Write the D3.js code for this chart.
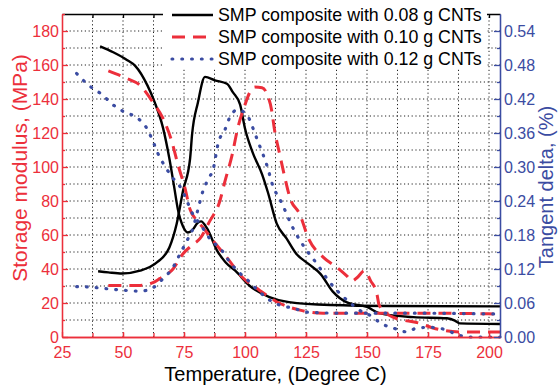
<!DOCTYPE html>
<html>
<head>
<meta charset="utf-8">
<script src="https://cdn.jsdelivr.net/npm/d3@7"></script>
<style>
  body { margin: 0; background: #fff; }
  svg { display: block; font-family: Arial, "Liberation Sans", sans-serif; }
</style>
</head>
<body>
<svg></svg>
<script>
const width = 560
const height = 385
const marginTop = 14
const marginRight = 60
const marginBottom = 48
const marginLeft = 62

const red = "#ec2f3b"
const blue = "#3b4ca2"

// tick labels
const xTicks = [25, 50, 75, 100, 125, 150, 175, 200]
const leftTicks = [0, 20, 40, 60, 80, 100, 120, 140, 160, 180]
const rightTicks = [0, 0.06, 0.12, 0.18, 0.24, 0.30, 0.36, 0.42, 0.48, 0.54]

const seriesNames = [
  "SMP composite with 0.08 g CNTs",
  "SMP composite with 0.10 g CNTs",
  "SMP composite with 0.12 g CNTs"
]

// 0.08 g CNTs - storage modulus (MPa)
const blackStorageT = [40.6, 46, 51.6, 55, 60, 63, 66.4, 69, 71, 72.5, 74.6, 76.6, 78.5, 80.5, 82, 84.4, 88.5, 92, 96, 102, 110, 118, 135, 160, 204.5]
const blackStorage = [171, 167.5, 163, 159.5, 148, 138, 123, 105, 88, 75, 65, 61.5, 63, 67, 68, 64, 51, 44, 39, 30, 23.5, 20.5, 18.8, 18.2, 18]
// 0.08 g CNTs - tangent delta
const blackTanT = [39.8, 44, 49.6, 57, 64, 69, 72, 74.6, 77.5, 78.3, 80.7, 83.6, 87.7, 92.6, 95, 98, 100, 103, 107, 109.4, 113, 117, 121, 126, 131, 136, 141.8, 150, 155, 169, 182.8, 186, 188, 204.5]
const blackTan = [0.116, 0.114, 0.112, 0.117, 0.132, 0.158, 0.200, 0.258, 0.315, 0.357, 0.414, 0.459, 0.453, 0.447, 0.432, 0.410, 0.368, 0.327, 0.287, 0.255, 0.200, 0.174, 0.147, 0.129, 0.111, 0.080, 0.061, 0.053, 0.042, 0.035, 0.033, 0.029, 0.024, 0.023]

// 0.10 g CNTs
const redStorageT = [44, 51.6, 57, 62.3, 66.4, 70, 72.5, 75.4, 77.5, 80, 83, 87, 92.6, 99, 106, 114, 122.5, 132, 150, 175, 204.5]
const redStorage = [156.5, 152, 148, 138, 128.6, 115, 101.5, 87.6, 75, 69, 64, 56.6, 46.7, 35, 27.4, 20, 15.8, 14, 14, 14, 13.5]
const redTanT = [44, 50, 57, 62.3, 65, 70.5, 74.6, 78, 81.6, 85.5, 89.7, 91.8, 94.7, 97, 100, 102, 104, 107, 109, 111, 112, 114.3, 116.4, 118.4, 122.5, 126, 132, 137.6, 141.7, 144, 146, 149, 151.5, 154, 155, 160.6, 171.7, 177, 188, 204.5]
const redTan = [0.091, 0.091, 0.091, 0.096, 0.103, 0.120, 0.147, 0.161, 0.174, 0.204, 0.240, 0.275, 0.321, 0.368, 0.410, 0.432, 0.441, 0.440, 0.429, 0.398, 0.368, 0.321, 0.280, 0.246, 0.216, 0.174, 0.141, 0.123, 0.108, 0.099, 0.105, 0.117, 0.099, 0.077, 0.056, 0.035, 0.024, 0.016, 0.009, 0.009]

// 0.12 g CNTs
const blueStorageT = [31, 36, 41.4, 45.9, 50.4, 55.7, 59.8, 62.3, 64.3, 67.2, 70.5, 74, 76.2, 78.7, 81.6, 85.6, 90.6, 93.9, 98, 101.2, 105.3, 110.2, 114.3, 119.7, 125.4, 140, 170, 204.5]
const blueStorage = [155, 148, 142.6, 136.6, 132.5, 129, 122.6, 115, 108, 100.4, 93.4, 87, 80, 72, 66.5, 57.8, 50.8, 43.8, 37.4, 33.3, 27.4, 21.6, 18.7, 17, 14.6, 14, 14, 13.5]
const blueTanT = [31, 36.5, 41.4, 46, 51.6, 57, 61.9, 66.4, 70.5, 73.4, 76.2, 78.7, 80.7, 82.8, 84.8, 87, 89, 91.8, 93.9, 97, 100.8, 103.3, 105.3, 107.4, 109.4, 111, 115, 119.7, 125.4, 129.5, 133.6, 137.7, 141.8, 147, 152.5, 155, 160.6, 166.4, 170.5, 175.8, 182.8, 187, 192, 204.5]
const blueTan = [0.089, 0.088, 0.086, 0.084, 0.082, 0.081, 0.086, 0.103, 0.123, 0.147, 0.170, 0.192, 0.225, 0.258, 0.278, 0.297, 0.342, 0.366, 0.389, 0.401, 0.392, 0.368, 0.345, 0.322, 0.297, 0.272, 0.237, 0.192, 0.152, 0.129, 0.103, 0.082, 0.065, 0.047, 0.035, 0.026, 0.016, 0.009, 0.016, 0.017, 0.012, 0.004, 0, 0]

const svg = d3.select("svg")
    .attr("width", width)
    .attr("height", height)

const x = d3.scaleLinear().domain([25, 204.5]).range([marginLeft, width - marginRight])
const yL = d3.scaleLinear().domain([0, 190]).range([height - marginBottom, marginTop])
const yR = d3.scaleLinear().domain([0, 0.57]).range([height - marginBottom, marginTop])

// grid
const xGrid = d3.range(37.5, 201, 12.5)
const yGrid = d3.range(10, 181, 10)
const grid = svg.append("g")
    .attr("stroke", "#222")
    .attr("stroke-width", 1)
    .attr("stroke-dasharray", "1.2,2.6")
grid.selectAll(".gx").data(xGrid).join("line")
    .attr("x1", d => x(d)).attr("x2", d => x(d))
    .attr("y1", yL(0)).attr("y2", yL(190))
grid.selectAll(".gy").data(yGrid).join("line")
    .attr("x1", x(25)).attr("x2", x(204.5))
    .attr("y1", d => yL(d)).attr("y2", d => yL(d))

// curves
const line = (ts, vs, y) => d3.line().curve(d3.curveMonotoneX)(ts.map((t, i) => [x(t), y(vs[i])]))

const styles = [
  {stroke: "#000", dash: null, w: 2.4, cap: "butt"},
  {stroke: red, dash: "13,8", w: 3, cap: "butt"},
  {stroke: blue, dash: "0.8,9", w: 3.2, cap: "round"}
]
const curves = [
  [blackStorageT, blackStorage, yL, 0],
  [blackTanT, blackTan, yR, 0],
  [redStorageT, redStorage, yL, 1],
  [redTanT, redTan, yR, 1],
  [blueStorageT, blueStorage, yL, 2],
  [blueTanT, blueTan, yR, 2]
]
svg.append("g").selectAll("path").data(curves).join("path")
    .attr("d", d => line(d[0], d[1], d[2]))
    .attr("fill", "none")
    .attr("stroke", d => styles[d[3]].stroke)
    .attr("stroke-width", d => styles[d[3]].w)
    .attr("stroke-linecap", d => styles[d[3]].cap)
    .attr("stroke-dasharray", d => styles[d[3]].dash)

// axes
function styleAxis(g, color, size) {
  g.selectAll("path, line").attr("stroke", color).attr("stroke-width", 1.3)
  g.selectAll("text").attr("fill", color).attr("font-size", size).attr("font-family", "Arial, 'Liberation Sans', sans-serif")
}

svg.append("g")
    .attr("transform", `translate(0, ${marginTop})`)
    .call(d3.axisTop(x).tickValues(d3.range(37.5, 201, 12.5)).tickFormat("").tickSizeInner(-4).tickSizeOuter(0))
    .call(g => styleAxis(g, "#000", 0))

svg.append("g")
    .attr("transform", `translate(0, ${height - marginBottom})`)
    .call(d3.axisBottom(x).tickValues(d3.range(37.5, 201, 12.5)).tickFormat("").tickSizeInner(-4).tickSizeOuter(0))
    .call(g => styleAxis(g, red, 0))
svg.append("g")
    .attr("transform", `translate(0, ${height - marginBottom})`)
    .call(d3.axisBottom(x).tickValues(xTicks).tickSizeInner(-5).tickSizeOuter(0).tickPadding(10))
    .call(g => styleAxis(g, red, "16px"))

svg.append("g")
    .attr("transform", `translate(${marginLeft}, 0)`)
    .call(d3.axisLeft(yL).tickValues(d3.range(10, 191, 20)).tickFormat("").tickSizeInner(-3).tickSizeOuter(0))
    .call(g => styleAxis(g, red, 0))
svg.append("g")
    .attr("transform", `translate(${marginLeft}, 0)`)
    .call(d3.axisLeft(yL).tickValues(leftTicks).tickSizeInner(-6).tickSizeOuter(0).tickPadding(3))
    .call(g => styleAxis(g, red, "16px"))

svg.append("g")
    .attr("transform", `translate(${width - marginRight}, 0)`)
    .call(d3.axisRight(yR).tickValues(d3.range(0.03, 0.57, 0.06)).tickFormat("").tickSizeInner(-3).tickSizeOuter(0))
    .call(g => styleAxis(g, blue, 0))
svg.append("g")
    .attr("transform", `translate(${width - marginRight}, 0)`)
    .call(d3.axisRight(yR).tickValues(rightTicks).tickFormat(d3.format(".2f")).tickSizeInner(-6).tickSizeOuter(0).tickPadding(4))
    .call(g => styleAxis(g, blue, "16px"))

// axis titles
svg.append("text")
    .attr("x", (x(25) + x(200)) / 2)
    .attr("y", 381)
    .attr("text-anchor", "middle")
    .attr("font-size", "20px")
    .attr("fill", "#000")
    .text("Temperature, (Degree C)")

svg.append("text")
    .attr("transform", "translate(27, 168) rotate(-90)")
    .attr("text-anchor", "middle")
    .attr("font-size", "21px")
    .attr("fill", red)
    .text("Storage modulus, (MPa)")

svg.append("text")
    .attr("transform", "translate(553, 187) rotate(-90)")
    .attr("text-anchor", "middle")
    .attr("font-size", "20px")
    .attr("fill", blue)
    .text("Tangent delta, (%)")

// legend
const legend = svg.append("g")
legend.append("rect")
    .attr("x", 163).attr("y", 2)
    .attr("width", 324).attr("height", 67)
    .attr("fill", "#fff")
const items = legend.selectAll(".item").data(seriesNames).join("g")
    .attr("transform", (d, i) => `translate(172, ${15 + i * 22})`)
items.append("line")
    .attr("x1", 0).attr("x2", 41)
    .attr("stroke", (d, i) => styles[i].stroke)
    .attr("stroke-width", (d, i) => styles[i].w)
    .attr("stroke-linecap", (d, i) => styles[i].cap)
    .attr("stroke-dasharray", (d, i) => styles[i].dash)
items.append("text")
    .attr("x", 46)
    .attr("y", 6)
    .attr("font-size", "17.8px")
    .attr("fill", "#000")
    .text(d => d)
</script>
</body>
</html>
